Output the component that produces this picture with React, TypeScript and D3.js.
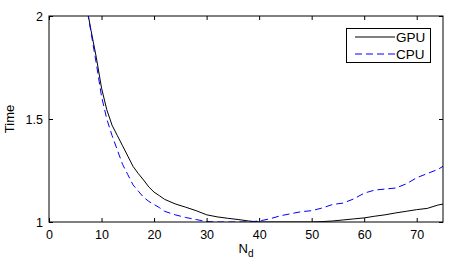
import React, { useEffect, useRef } from "react";
import * as d3 from "d3";

const nd = [7, 8, 9, 10, 11, 12, 13, 14, 15, 16, 17, 18, 19, 20, 21, 22, 24, 26, 28, 30, 32, 34, 36, 38, 40, 42, 44, 46, 48, 50, 52, 54, 56, 58, 60, 62, 64, 66, 68, 70, 72, 74, 75];
const gpu = [2.07, 1.93, 1.8, 1.65, 1.545, 1.47, 1.42, 1.37, 1.32, 1.27, 1.235, 1.204, 1.17, 1.145, 1.128, 1.11, 1.088, 1.072, 1.055, 1.035, 1.025, 1.018, 1.012, 1.005, 1.0, 1.0, 1.0, 1.0, 1.0, 1.0, 1.002, 1.005, 1.01, 1.015, 1.02, 1.028, 1.035, 1.044, 1.052, 1.06, 1.066, 1.082, 1.087];
const cpu = [2.07, 1.92, 1.77, 1.61, 1.5, 1.42, 1.35, 1.28, 1.23, 1.18, 1.15, 1.12, 1.1, 1.085, 1.07, 1.052, 1.035, 1.022, 1.012, 1.002, 1.0, 1.0, 1.0, 1.0, 1.005, 1.015, 1.03, 1.04, 1.05, 1.055, 1.068, 1.085, 1.092, 1.112, 1.14, 1.155, 1.16, 1.165, 1.185, 1.215, 1.235, 1.255, 1.27];
const xTicks = [0, 10, 20, 30, 40, 50, 60, 70];
const yTicks = [1, 1.5, 2];
const seriesNames = ["GPU", "CPU"];

const App = () => {
  const ref = useRef<SVGSVGElement>(null);

  useEffect(() => {
    const width = 452;
    const height = 263;
    const margin = { top: 16, right: 9, bottom: 41, left: 49 };
    const font = "'Liberation Sans', Arial, sans-serif";

    const svg = d3.select(ref.current);
    svg.selectAll("*").remove();

    const x = d3.scaleLinear().domain([0, 75]).range([margin.left, width - margin.right]);
    const y = d3.scaleLinear().domain([1, 2]).range([height - margin.bottom, margin.top]);

    svg.append("defs").append("clipPath").attr("id", "plot-clip")
      .append("rect")
      .attr("x", margin.left).attr("y", margin.top)
      .attr("width", width - margin.left - margin.right)
      .attr("height", height - margin.top - margin.bottom);

    const line = d3.line<[number, number]>().x((d) => x(d[0])).y((d) => y(d[1]));

    const plot = svg.append("g").attr("clip-path", "url(#plot-clip)");
    plot.append("path")
      .datum(nd.map((v, i) => [v, gpu[i]] as [number, number]))
      .attr("fill", "none").attr("stroke", "#000").attr("stroke-width", 1)
      .attr("d", line);
    plot.append("path")
      .datum(nd.map((v, i) => [v, cpu[i]] as [number, number]))
      .attr("fill", "none").attr("stroke", "#0000ff").attr("stroke-width", 1)
      .attr("stroke-dasharray", "7,4")
      .attr("d", line);

    // box
    svg.append("rect")
      .attr("x", margin.left).attr("y", margin.top)
      .attr("width", width - margin.left - margin.right)
      .attr("height", height - margin.top - margin.bottom)
      .attr("fill", "none").attr("stroke", "#000").attr("stroke-width", 1);

    // ticks point inward, like matlab
    const xAxis = svg.append("g")
      .attr("transform", `translate(0,${height - margin.bottom})`)
      .call(d3.axisBottom(x).tickValues(xTicks).tickSize(-4).tickPadding(8).tickFormat(d3.format("d")));
    xAxis.select(".domain").remove();
    const xTop = svg.append("g")
      .attr("transform", `translate(0,${margin.top})`)
      .call(d3.axisTop(x).tickValues(xTicks).tickSize(-4).tickFormat(() => ""));
    xTop.select(".domain").remove();

    const yAxis = svg.append("g")
      .attr("transform", `translate(${margin.left},0)`)
      .call(d3.axisLeft(y).tickValues(yTicks).tickSize(-4).tickPadding(6).tickFormat((d) => String(d)));
    yAxis.select(".domain").remove();
    const yRight = svg.append("g")
      .attr("transform", `translate(${width - margin.right},0)`)
      .call(d3.axisRight(y).tickValues(yTicks).tickSize(-4).tickFormat(() => ""));
    yRight.select(".domain").remove();

    svg.selectAll(".tick text")
      .attr("font-family", font).attr("font-size", 12.5).attr("fill", "#000");
    svg.selectAll(".tick line").attr("stroke", "#000");

    svg.append("text")
      .attr("transform", `translate(14,${(margin.top + height - margin.bottom) / 2}) rotate(-90)`)
      .attr("text-anchor", "middle")
      .attr("font-family", font).attr("font-size", 13)
      .text("Time");

    const xl = svg.append("text")
      .attr("x", x(37.5)).attr("y", 253)
      .attr("text-anchor", "middle")
      .attr("font-family", font).attr("font-size", 13);
    xl.append("tspan").text("N");
    xl.append("tspan").attr("font-size", 10).attr("dy", 4).text("d");

    // legend
    const lg = svg.append("g");
    lg.append("rect")
      .attr("x", 346.5).attr("y", 28.5).attr("width", 84).attr("height", 34)
      .attr("fill", "#fff").attr("stroke", "#000").attr("stroke-width", 1);
    const colors = ["#000", "#0000ff"];
    seriesNames.forEach((name, i) => {
      const yy = 37 + i * 17;
      lg.append("line")
        .attr("x1", 355).attr("x2", 395).attr("y1", yy).attr("y2", yy)
        .attr("stroke", colors[i]).attr("stroke-width", 1)
        .attr("stroke-dasharray", i === 1 ? "7,4" : null);
      lg.append("text")
        .attr("x", 396).attr("y", yy + 5)
        .attr("font-family", font).attr("font-size", 13.5)
        .text(name);
    });
  }, []);

  return (
    <svg ref={ref} width={452} height={263} style={{ position: "absolute", left: 0, top: 0, background: "#fff" }} />
  );
};

export default App;
